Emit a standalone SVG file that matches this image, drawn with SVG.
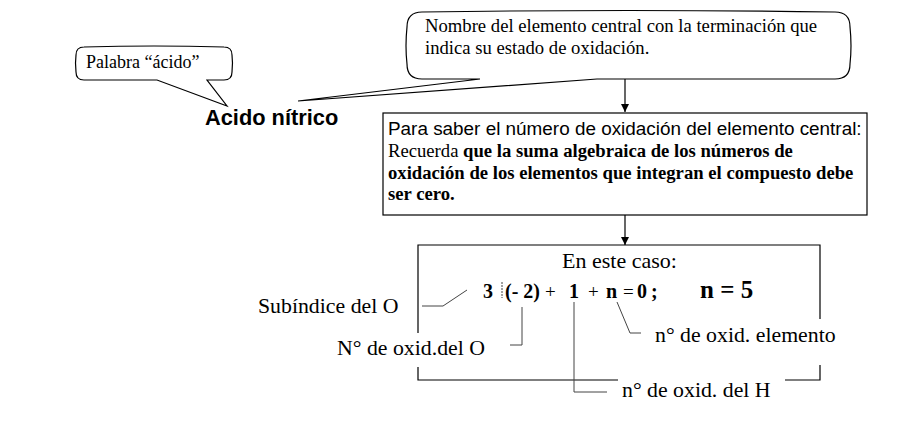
<svg xmlns="http://www.w3.org/2000/svg" width="905" height="428" viewBox="0 0 905 428">
<defs>
<style>
.t{font-family:"Liberation Serif","Times New Roman",serif;fill:#000}
.a{font-family:"Liberation Sans",Arial,sans-serif;fill:#000}
.b{font-weight:bold}
.op{font-size:19px}
.lbl{font-size:21.8px}
.shape{fill:#fff;stroke:#000;stroke-width:1.2}
.frame{fill:none;stroke:#000;stroke-width:1.2}
.conn{fill:none;stroke:#444;stroke-width:1}
.arr{stroke:#000;stroke-width:1.2;fill:none}
</style>
<marker id="ah" viewBox="0 0 10 10" refX="10" refY="5" markerWidth="8" markerHeight="8" markerUnits="userSpaceOnUse" orient="auto">
<path d="M0,0 L10,5 L0,10 z" fill="#000"/>
</marker>
</defs>
<rect width="905" height="428" fill="#fff"/>

<g id="callout-acido">
<path class="shape" d="M84,47 Q154,45 224,47 Q232,47 232,55 Q233,63 232,72 Q232,80 224,80 L207,80 L227,106 L157,80 L84,80 Q76,80 76,72 Q75,63 76,55 Q76,47 84,47 Z"/>
<text class="t" x="86" y="68" font-size="18">Palabra “ácido”</text>
</g>

<g id="callout-nombre">
<path class="shape" d="M422,12 Q628,9 835,12 Q850,12 850,27 Q852,46 850,64 Q850,79 835,79 L597,79 L298,101 L480,79 L422,79 Q407,79 407,64 Q405,46 407,27 Q407,12 422,12 Z"/>
<text class="t" font-size="18.67"><tspan x="425" y="32">Nombre del elemento central con la terminación que</tspan><tspan x="425" y="54">indica su estado de oxidación.</tspan></text>
</g>

<g id="acido-nitrico">
<text class="a b" x="205" y="125" font-size="21.8">Acido nítrico</text>
</g>

<g id="box-regla">
<rect class="shape" x="383" y="113" width="484" height="102"/>
<text class="a" x="388" y="135" font-size="18.9">Para saber el número de oxidación del elemento central:</text>
<text class="t" font-size="18.67"><tspan x="388" y="157">Recuerda </tspan><tspan class="b">que la suma algebraica de los números de</tspan><tspan class="b" x="388" y="179">oxidación de los elementos que integran el compuesto debe</tspan><tspan class="b" x="388" y="200">ser cero.</tspan></text>
</g>

<g id="box-caso">
<polyline class="frame" points="418,333 418,245 820,245 820,319"/>
<polyline class="frame" points="820,365 820,380 785,380"/>
<polyline class="frame" points="618,380 418,380 418,367"/>
<text class="t" x="562" y="268" font-size="22">En este caso:</text>
<text class="t" y="298" font-size="20"><tspan class="b" x="483">3</tspan><tspan class="b" x="505">(- 2)</tspan><tspan class="op" x="545">+</tspan><tspan class="b" x="569">1</tspan><tspan class="op" x="588">+</tspan><tspan class="b" x="606">n</tspan><tspan class="op" x="623">=</tspan><tspan class="b" x="637">0</tspan><tspan class="b" x="651">;</tspan></text>
<text class="t b" x="700" y="298" font-size="25">n = 5</text>
<line x1="502" y1="282" x2="502" y2="298" stroke="#444" stroke-width="1" stroke-dasharray="2,1"/>
</g>

<g id="label-subindice">
<text class="t lbl" x="258" y="313">Subíndice del O</text>
</g>
<g id="label-oxid-o">
<text class="t lbl" x="337" y="355">N° de oxid.del O</text>
</g>
<g id="label-oxid-elemento">
<text class="t lbl" x="655" y="342">n° de oxid. elemento</text>
</g>
<g id="label-oxid-h">
<text class="t lbl" x="622" y="397">n° de oxid. del H</text>
</g>

<g id="connectors">
<line class="arr" x1="625" y1="79" x2="625" y2="112" marker-end="url(#ah)"/>
<line class="arr" x1="625" y1="215" x2="625" y2="245" marker-end="url(#ah)"/>
<polyline class="conn" points="422,306 443,306 467,290"/>
<polyline class="conn" points="510,345 522,345 522,307"/>
<polyline class="conn" points="574,302 574,392 607,392"/>
<polyline class="conn" points="617,302 630,333 641,333"/>
</g>
</svg>
